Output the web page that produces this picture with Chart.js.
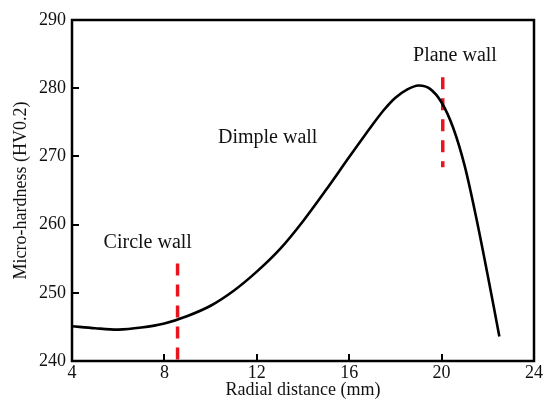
<!DOCTYPE html>
<html>
<head>
<meta charset="utf-8">
<script src="https://cdn.jsdelivr.net/npm/chart.js@4/dist/chart.umd.min.js"></script>
<style>
  html, body { margin: 0; padding: 0; background: #fff; }
  #wrap { width: 544px; height: 401px; }
</style>
</head>
<body>
<div id="wrap"><canvas id="hardnessChart"></canvas></div>
<script>
// radial distance (mm) and micro-hardness (HV0.2)
const radialDistance = [4, 5, 6, 7, 8, 9, 10, 11, 12, 13, 14, 15, 16, 17, 17.5, 18, 18.5, 19, 19.5, 20, 20.5, 21, 21.5, 22, 22.5];
const microHardness = [245.1, 244.8, 244.6, 244.9, 245.5, 246.6, 248.1, 250.3, 253.1, 256.4, 260.5, 265.1, 269.9, 274.6, 276.8, 278.6, 279.8, 280.4, 279.9, 277.9, 274.2, 268.6, 261.0, 252.5, 243.6];

// zone boundaries (red dashed)
const circleBoundaryX = [8.57, 8.57];
const circleBoundaryY = [254.3, 240];
const planeBoundaryX = [20.05, 20.05];
const planeBoundaryY = [281.6, 268.4];

// zone labels
const zoneNames = ["Circle wall", "Dimple wall", "Plane wall"];
const zoneX = [7.28, 12.47, 20.58];
const zoneY = [257.4, 272.8, 284.7];

const xTicks = [4, 8, 12, 16, 20, 24];
const yTicks = [240, 250, 260, 270, 280, 290];

const FONT = "'Liberation Serif', 'Times New Roman', serif";

const toPoints = (xs, ys) => xs.map((x, i) => ({ x: x, y: ys[i] }));

const frameAndTicks = {
  id: "frameAndTicks",
  afterDraw(chart) {
    const ctx = chart.ctx;
    const a = chart.chartArea;
    const xs = chart.scales.x;
    const ys = chart.scales.y;
    ctx.save();
    ctx.strokeStyle = "#000";
    ctx.lineWidth = 2.5;
    ctx.strokeRect(a.left, a.top, a.right - a.left, a.bottom - a.top);
    ctx.lineWidth = 2;
    xTicks.slice(1, -1).forEach(v => {
      const px = Math.round(xs.getPixelForValue(v));
      ctx.beginPath();
      ctx.moveTo(px, a.bottom);
      ctx.lineTo(px, a.bottom - 7);
      ctx.stroke();
    });
    yTicks.slice(1, -1).forEach(v => {
      const py = Math.round(ys.getPixelForValue(v));
      ctx.beginPath();
      ctx.moveTo(a.left, py);
      ctx.lineTo(a.left + 7, py);
      ctx.stroke();
    });
    ctx.fillStyle = "#111";
    ctx.font = "20px " + FONT;
    ctx.textAlign = "center";
    ctx.textBaseline = "middle";
    zoneNames.forEach((name, i) => {
      ctx.fillText(name, xs.getPixelForValue(zoneX[i]), ys.getPixelForValue(zoneY[i]));
    });
    ctx.restore();
  }
};

new Chart(document.getElementById("hardnessChart"), {
  type: "scatter",
  data: {
    datasets: [
      {
        data: toPoints(radialDistance, microHardness),
        showLine: true,
        borderColor: "#000",
        borderWidth: 2.6,
        pointRadius: 0,
        tension: 0.3
      },
      {
        data: toPoints(circleBoundaryX, circleBoundaryY),
        showLine: true,
        borderColor: "#e8141e",
        borderWidth: 3.5,
        borderDash: [12, 9],
        pointRadius: 0
      },
      {
        data: toPoints(planeBoundaryX, planeBoundaryY),
        showLine: true,
        borderColor: "#e8141e",
        borderWidth: 3.5,
        borderDash: [12, 9],
        pointRadius: 0
      }
    ]
  },
  options: {
    responsive: true,
    maintainAspectRatio: false,
    animation: false,
    layout: { padding: { top: 20, right: 9, left: 0, bottom: 0 } },
    plugins: {
      legend: { display: false },
      tooltip: { enabled: false }
    },
    scales: {
      x: {
        type: "linear",
        min: 4,
        max: 24,
        afterBuildTicks: scale => { scale.ticks = xTicks.map(v => ({ value: v })); },
        afterFit: scale => { scale.height = 40; },
        grid: { display: false, drawTicks: false },
        border: { display: false },
        ticks: { color: "#111", font: { family: FONT, size: 18 }, padding: 1, maxRotation: 0 },
        title: { display: true, text: "Radial distance (mm)", color: "#111", font: { family: FONT, size: 18 }, padding: { top: -1, bottom: 0 } }
      },
      y: {
        min: 240,
        max: 290,
        afterBuildTicks: scale => { scale.ticks = yTicks.map(v => ({ value: v })); },
        afterFit: scale => { scale.width = 72; },
        grid: { display: false, drawTicks: false },
        border: { display: false },
        ticks: { color: "#111", font: { family: FONT, size: 18 }, padding: 6 },
        title: { display: true, text: "Micro-hardness (HV0.2)", color: "#111", font: { family: FONT, size: 18 }, padding: { top: 10, bottom: 0 } }
      }
    }
  },
  plugins: [frameAndTicks]
});
</script>
</body>
</html>
